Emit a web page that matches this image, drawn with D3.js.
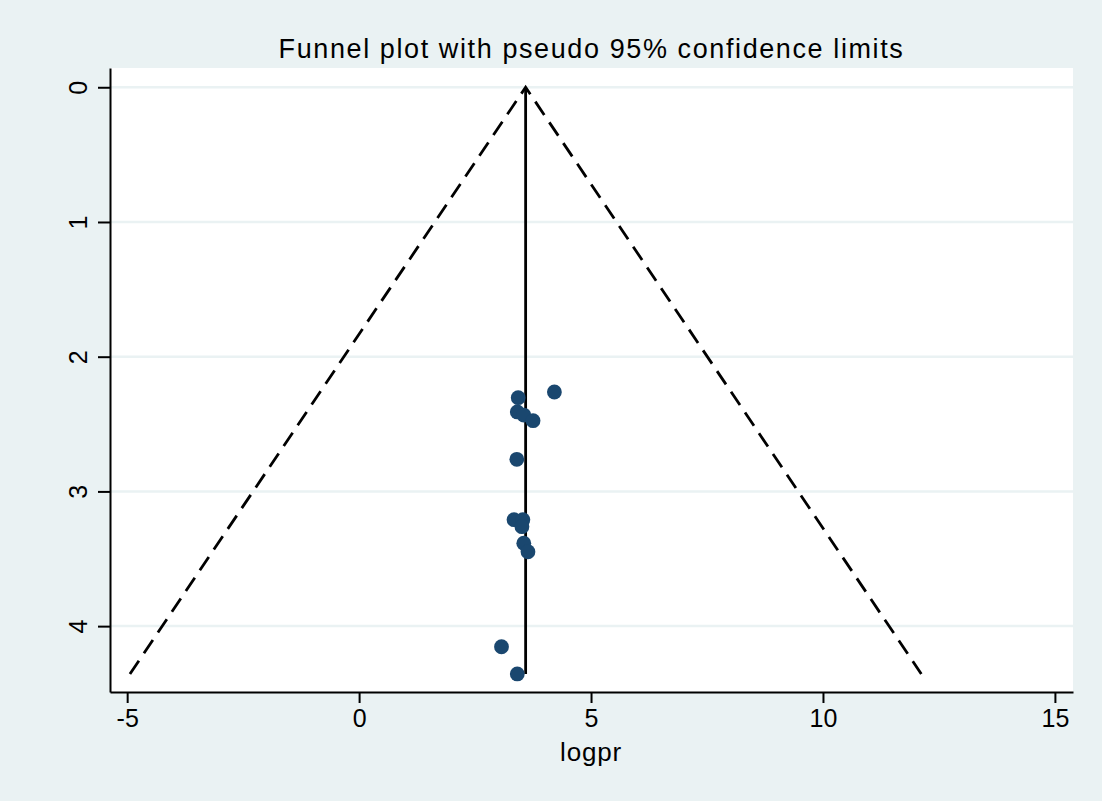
<!DOCTYPE html>
<html>
<head>
<meta charset="utf-8">
<script src="https://cdn.jsdelivr.net/npm/d3@7"></script>
<style>
  body { margin: 0; background: #eaf2f3; }
  text { font-family: "Liberation Sans", Arial, sans-serif; fill: #000; }
</style>
</head>
<body>
<div id="container"></div>
<script>
/* DATA */
const logpr = [4.21, 3.43, 3.41, 3.55, 3.75, 3.40, 3.34, 3.53, 3.51, 3.55, 3.64, 3.07, 3.41];
const seLogpr = [2.262, 2.304, 2.41, 2.433, 2.475, 2.762, 3.21, 3.21, 3.262, 3.385, 3.448, 4.153, 4.355];
const pooled = 3.59;
const funnelSe = [4.355, 0, 4.355];
const funnelLimit = [-4.94, 3.59, 12.12];
const xTicks = [-5, 0, 5, 10, 15];
const yTicks = [0, 1, 2, 3, 4];

/* CONSTANTS */
const width = 1102, height = 801;
const plot = { left: 110, right: 1073, top: 68, bottom: 692 };
const navy = "#1a476f";
const font = "Liberation Sans, Arial, sans-serif";

const svg = d3.select("#container")
  .append("svg")
  .attr("width", width)
  .attr("height", height);

// background
svg.append("rect")
  .attr("width", width).attr("height", height)
  .attr("fill", "#eaf2f3");

const x = d3.scaleLinear().domain([-5.37, 15.39]).range([plot.left, plot.right]);
const y = d3.scaleLinear().domain([-0.143, 4.489]).range([plot.top, plot.bottom]);

// plot region
svg.append("rect")
  .attr("x", plot.left).attr("y", plot.top)
  .attr("width", plot.right - plot.left).attr("height", plot.bottom - plot.top)
  .attr("fill", "#fff");

// gridlines
svg.append("g")
  .selectAll("line")
  .data(yTicks)
  .join("line")
  .attr("x1", plot.left).attr("x2", plot.right)
  .attr("y1", d => y(d)).attr("y2", d => y(d))
  .attr("stroke", "#eaf2f3")
  .attr("stroke-width", 2.5);

// funnel (pseudo 95% limits)
const line = d3.line().x(d => x(d[0])).y(d => y(d[1]));
svg.append("path")
  .datum(funnelLimit.map((v, i) => [v, funnelSe[i]]))
  .attr("d", line)
  .attr("fill", "none")
  .attr("stroke", "#000")
  .attr("stroke-width", 2.8)
  .attr("stroke-dasharray", "16,9");

// pooled estimate line
svg.append("path")
  .datum([[pooled, 0], [pooled, d3.max(seLogpr)]])
  .attr("d", line)
  .attr("fill", "none")
  .attr("stroke", "#000")
  .attr("stroke-width", 2.8);

// studies
svg.append("g")
  .selectAll("circle")
  .data(logpr.map((v, i) => ({ est: v, se: seLogpr[i] })))
  .join("circle")
  .attr("cx", d => x(d.est))
  .attr("cy", d => y(d.se))
  .attr("r", 7.4)
  .attr("fill", navy);

// x axis
const xAxis = svg.append("g")
  .attr("transform", `translate(0,${plot.bottom})`)
  .call(d3.axisBottom(x).tickValues(xTicks).tickFormat(d => String(d))
    .tickSize(11).tickSizeOuter(0).tickPadding(6));
xAxis.selectAll("text").attr("font-size", 25).attr("dy", "0.71em")
  .style("font-family", font);

// y axis
const yAxis = svg.append("g")
  .attr("transform", `translate(${plot.left},0)`)
  .call(d3.axisLeft(y).tickValues(yTicks).tickFormat(d => String(d))
    .tickSize(12).tickSizeOuter(0));
yAxis.selectAll("text")
  .attr("x", 0).attr("dy", 0).attr("y", -23)
  .attr("text-anchor", "middle")
  .attr("transform", "rotate(-90)")
  .attr("font-size", 25)
  .style("font-family", font);

[xAxis, yAxis].forEach(g => {
  g.select(".domain").attr("stroke", "#000").attr("stroke-width", 2);
  g.selectAll(".tick line").attr("stroke", "#000").attr("stroke-width", 2);
  g.selectAll("text").attr("fill", "#000");
});

// axis title
svg.append("text")
  .attr("x", x(5)).attr("y", 761)
  .attr("text-anchor", "middle")
  .attr("font-size", 26)
  .attr("letter-spacing", 0.8)
  .text("logpr");

// chart title
svg.append("text")
  .attr("x", (plot.left + plot.right) / 2).attr("y", 58)
  .attr("text-anchor", "middle")
  .attr("font-size", 27)
  .attr("letter-spacing", 1.6)
  .text("Funnel plot with pseudo 95% confidence limits");
</script>
</body>
</html>
